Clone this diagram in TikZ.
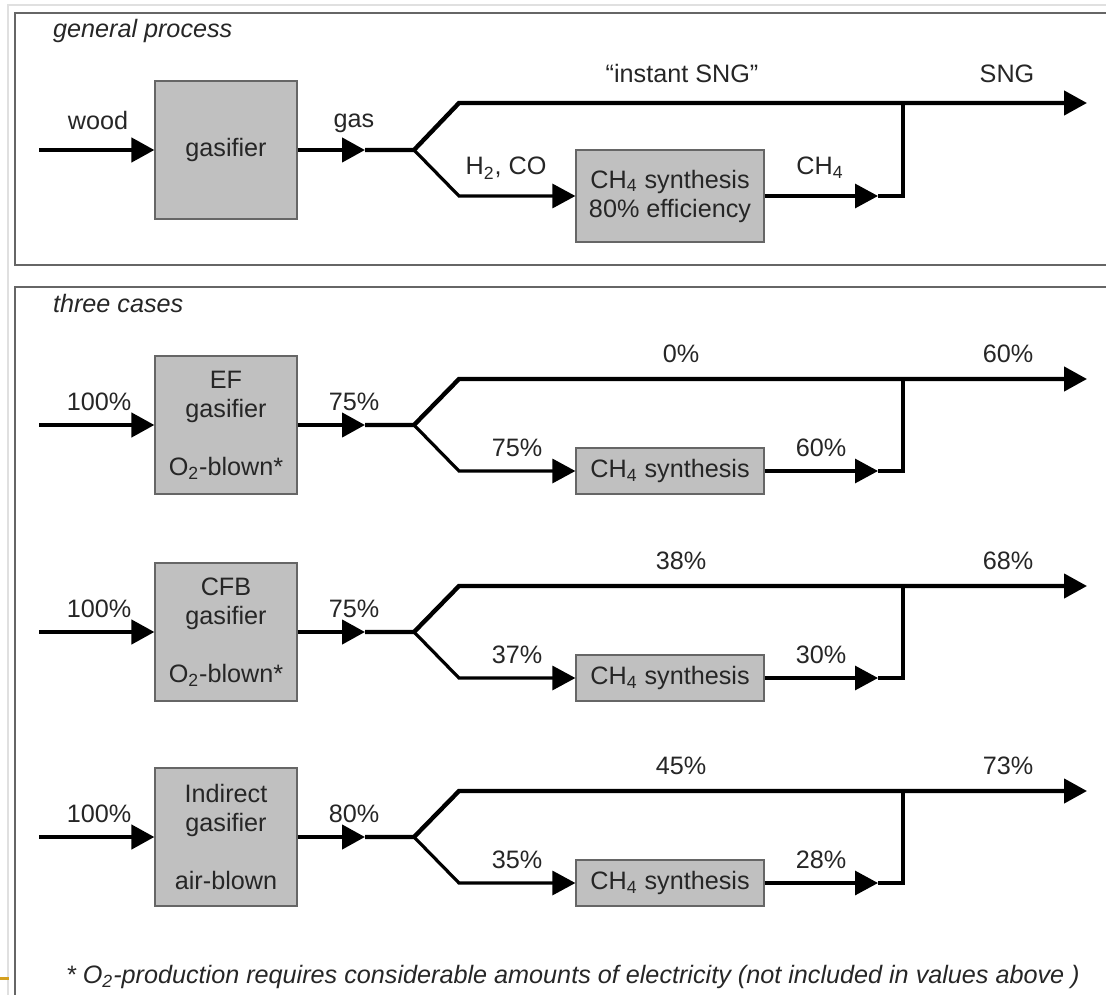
\documentclass[tikz,border=0pt]{standalone}
\usepackage{fontspec}
\setmainfont{Liberation Sans}
\usetikzlibrary{arrows.meta}
\definecolor{boxgray}{HTML}{C0C0C0}
\definecolor{framegray}{HTML}{666666}
\definecolor{txtgray}{HTML}{262626}
\definecolor{markorange}{HTML}{D4A020}
\begin{document}
\begin{tikzpicture}[x=0.5pt,y=-0.5pt,>={Triangle[length=11.5pt,width=12pt]},
		font=\fontsize{12.6}{14.5}\selectfont,text=txtgray,
		flow/.style={line width=2.2pt,line join=miter},
		thinflow/.style={line width=1.6pt,line join=miter},
		unit/.style={draw=framegray,fill=boxgray,line width=0.6pt,inner sep=0pt,align=center},
		gasbox/.style={unit,minimum width=71pt,minimum height=69pt},
		synbox/.style={unit,minimum width=94pt,minimum height=23pt},
		lbl/.style={anchor=base},
		note/.style={anchor=base west,font=\fontsize{12.6}{14.5}\selectfont\itshape}]
	\useasboundingbox (0,0) rectangle (1106,994);
	\clip (0,0) rectangle (1106,994);
	% frames
	\draw[black!12,line width=1pt] (1120,5)--(8,5)--(8,1000);
	\draw[framegray,line width=1pt] (1120,13)--(15,13)--(15,265)--(1120,265);
	\draw[framegray,line width=1pt] (1120,287)--(15,287)--(15,1000);
	\draw[markorange,line width=1.5pt] (0,978)--(9,978);
	\node[note] (title0) at (46,38) {general process};
	\node[note] (title1) at (46,313) {three cases};
	% general process
	\node[gasbox] (g0) at (226,150) {gasifier};
	\node[synbox,minimum height=46pt] (s0) at (670,196) {CH\textsubscript{4} synthesis\\80\% efficiency};
	\coordinate (in0) at (39,150);
	\coordinate (t0) at (365,150);
	\coordinate (sp0) at (414,150);
	\coordinate (up0) at (459,103);
	\coordinate (lo0) at (459,196);
	\coordinate (end0) at (1087,103);
	\coordinate (ct0) at (878,196);
	\coordinate (jn0) at (903,196);
	\coordinate (jt0) at (903,103);
	\draw[flow,->] (in0)--(g0);
	\draw[flow,->] (g0)--(t0);
	\draw[flow,->] (t0)--(sp0)--(up0)--(end0);
	\draw[thinflow,->] (sp0)--(lo0)--(s0);
	\draw[thinflow,->] (s0)--(ct0);
	\draw[thinflow] (ct0)--(jn0)--(jt0);
	\node[lbl] (lw0) at (98,130) {wood};
	\node[lbl] (lg0) at (354,128) {gas};
	\node[lbl] (ll0) at (506,175) {H\textsubscript{2}, CO};
	\node[lbl] (lc0) at (820,175) {CH\textsubscript{4}};
	\node[lbl] (lu0) at (682,83) {``instant SNG''};
	\node[lbl] (lo0t) at (1007,83) {SNG};
	% three cases
	\foreach \y/\n/\a/\c/\g/\l/\u/\o/\s in {425/1/EF/O\textsubscript{2}-blown*/75/75/0/60/60,
			632/2/CFB/O\textsubscript{2}-blown*/75/37/38/30/68,
			837/3/Indirect/air-blown/80/35/45/28/73}{
		\node[gasbox] (g\n) at (226,\y) {\a\\gasifier\\[14.5pt]\c};
		\node[synbox] (s\n) at (670,\y+46) {CH\textsubscript{4} synthesis};
		\coordinate (in\n) at (39,\y);
		\coordinate (t\n) at (365,\y);
		\coordinate (sp\n) at (414,\y);
		\coordinate (up\n) at (459,\y-46);
		\coordinate (lo\n) at (459,\y+46);
		\coordinate (end\n) at (1087,\y-46);
		\coordinate (ct\n) at (878,\y+46);
		\coordinate (jn\n) at (903,\y+46);
		\coordinate (jt\n) at (903,\y-46);
		\draw[flow,->] (in\n)--(g\n);
		\draw[flow,->] (g\n)--(t\n);
		\draw[flow,->] (t\n)--(sp\n)--(up\n)--(end\n);
		\draw[thinflow,->] (sp\n)--(lo\n)--(s\n);
		\draw[thinflow,->] (s\n)--(ct\n);
		\draw[thinflow] (ct\n)--(jn\n)--(jt\n);
		\node[lbl] (li\n) at (99,\y-15) {100\%};
		\node[lbl] (lg\n) at (354,\y-15) {\g\%};
		\node[lbl] (ll\n) at (517,\y+31) {\l\%};
		\node[lbl] (lu\n) at (681,\y-63) {\u\%};
		\node[lbl] (lc\n) at (821,\y+31) {\o\%};
		\node[lbl] (ls\n) at (1008,\y-63) {\s\%};
	}
	\node[note] (foot) at (59,983) {* O\textsubscript{2}-production requires considerable amounts of electricity (not included in values above )};
\end{tikzpicture}
\end{document}
